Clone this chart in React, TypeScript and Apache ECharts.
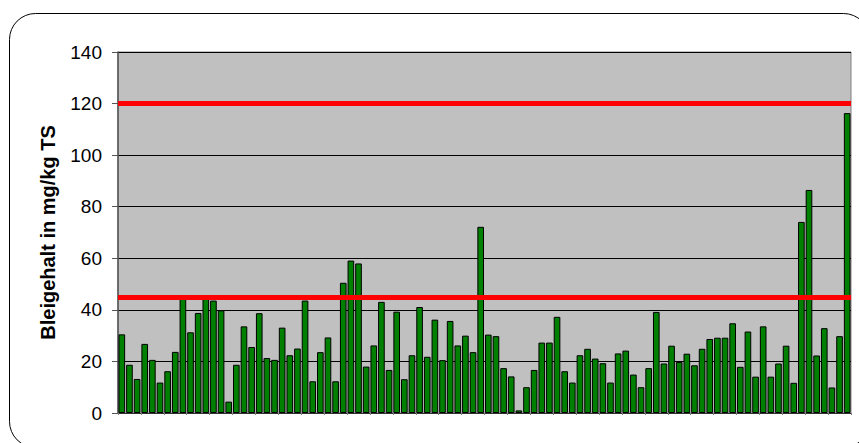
import React, { useEffect, useRef } from "react";
import * as echarts from "echarts";

const categories: string[] = Array.from({ length: 96 }, (_, i) => String(i + 1));

const leadValues: number[] = [
  30.5, 18.7, 13.2, 26.8, 20.6, 11.8, 16.2, 23.7, 45.0, 31.3,
  38.8, 45.0, 43.6, 39.8, 4.4, 18.7, 33.6, 25.6, 38.7, 21.3,
  20.6, 33.1, 22.4, 25.0, 43.6, 12.3, 23.6, 29.3, 12.3, 50.5,
  59.1, 58.0, 18.0, 26.2, 43.1, 16.7, 39.3, 13.1, 22.4, 41.1,
  21.8, 36.2, 20.5, 35.7, 26.2, 30.0, 23.6, 72.2, 30.4, 29.8,
  17.4, 14.2, 1.0, 10.0, 16.7, 27.3, 27.3, 37.3, 16.2, 11.8,
  22.4, 24.9, 21.1, 19.3, 11.8, 23.1, 24.2, 14.9, 10.0, 17.4,
  39.2, 19.2, 26.1, 19.8, 23.0, 18.5, 24.9, 28.7, 29.2, 29.2,
  34.8, 17.9, 31.6, 14.1, 33.6, 14.1, 19.2, 26.1, 11.7, 74.1,
  86.5, 22.3, 32.9, 9.9, 29.8, 116.3,
];

const limitValues: number[] = [45, 120];

const yTicks = { min: 0, max: 140, interval: 20 };
const yAxisTitle = "Bleigehalt in mg/kg TS";

export default function App() {
  const ref = useRef<HTMLDivElement>(null);

  useEffect(() => {
    if (!ref.current) return;
    const chart = echarts.init(ref.current, undefined, { renderer: "svg" });
    chart.setOption({
      animation: false,
      backgroundColor: "#ffffff",
      textStyle: { fontFamily: "Liberation Sans, Arial, sans-serif" },
      graphic: [
        {
          type: "rect",
          shape: { x: 9.5, y: 13.5, width: 860, height: 434, r: 26 },
          style: { fill: "none", stroke: "#000000", lineWidth: 1 },
          z: -1,
        },
      ],
      grid: {
        left: 118,
        right: 8,
        top: 52,
        bottom: 30,
        show: true,
        backgroundColor: "#C0C0C0",
        borderColor: "#808080",
        borderWidth: 1,
      },
      xAxis: {
        type: "category",
        data: categories,
        axisLabel: { show: false },
        axisTick: { show: true, length: 2, lineStyle: { color: "#808080" } },
        axisLine: { show: true, lineStyle: { color: "#333333", width: 1 } },
        splitLine: { show: false },
      },
      yAxis: {
        type: "value",
        min: yTicks.min,
        max: yTicks.max,
        interval: yTicks.interval,
        name: yAxisTitle,
        nameLocation: "middle",
        nameRotate: 90,
        nameGap: 60,
        nameTextStyle: {
          fontSize: 20,
          fontWeight: "bold",
          color: "#000000",
          fontFamily: "Liberation Sans, Arial, sans-serif",
        },
        axisLabel: {
          fontSize: 19,
          color: "#000000",
          margin: 16,
          fontFamily: "Liberation Sans, Arial, sans-serif",
        },
        axisTick: { show: true, inside: false, length: 6, lineStyle: { color: "#555555" } },
        axisLine: { show: true, lineStyle: { color: "#555555", width: 1.5 } },
        splitLine: { show: true, lineStyle: { color: "#000000", width: 1 } },
      },
      series: [
        {
          type: "bar",
          data: leadValues,
          barCategoryGap: "13%",
          itemStyle: { color: "#008000", borderColor: "#000000", borderWidth: 1 },
          markLine: {
            silent: true,
            symbol: "none",
            label: { show: false },
            lineStyle: { color: "#FF0000", width: 5, type: "solid" },
            data: limitValues.map((v) => ({ yAxis: v })),
          },
        },
      ],
    });
    return () => chart.dispose();
  }, []);

  return (
    <div
      ref={ref}
      style={{ position: "fixed", left: 0, top: 0, width: 859, height: 443 }}
    />
  );
}
